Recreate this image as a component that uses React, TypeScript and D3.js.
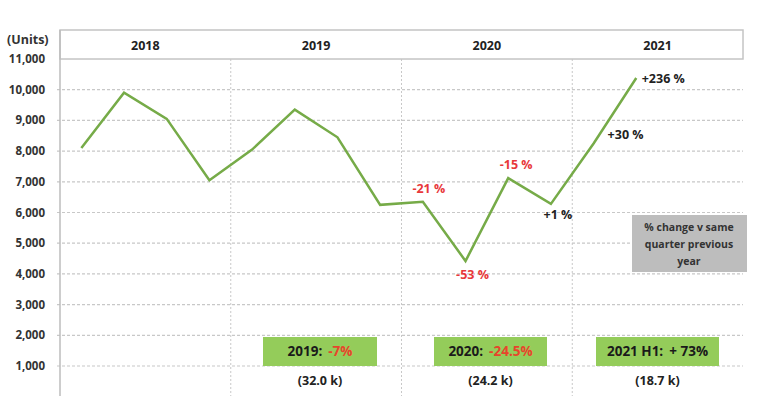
import React from "react";
import * as d3 from "d3";

const years = ["2018", "2019", "2020", "2021"];
const quartersPerYear = 4;
const values = [8100, 9900, 9050, 7050, 8050, 9350, 8450, 6250, 6350, 4420, 7120, 6280, 8250, 10380];
const yTicks = [1000, 2000, 3000, 4000, 5000, 6000, 7000, 8000, 9000, 10000, 11000];

const pctLabels = [
  { idx: 8, text: "-21 %", color: "#e8383b", dx: 6, dy: -9 },
  { idx: 9, text: "-53 %", color: "#e8383b", dx: 7, dy: 18 },
  { idx: 10, text: "-15 %", color: "#e8383b", dx: 8, dy: -9 },
  { idx: 11, text: "+1 %", color: "#222", dx: 7, dy: 15 },
  { idx: 12, text: "+30 %", color: "#222", dx: 32, dy: -4 },
  { idx: 13, text: "+236 %", color: "#222", dx: 27, dy: 5 },
];

const yearBoxes = [
  { year: 1, label: "2019:", pct: "-7%", pctColor: "#e8452b", total: "(32.0 k)", x0: 263, x1: 377 },
  { year: 2, label: "2020:", pct: "-24.5%", pctColor: "#e8452b", total: "(24.2 k)", x0: 434, x1: 547 },
  { year: 3, label: "2021 H1:", pct: "+ 73%", pctColor: "#1a1a1a", total: "(18.7 k)", x0: 596, x1: 719 },
];

const noteLines = ["% change v same", "quarter previous", "year"];

export default function App() {
  const W = 768, H = 396;
  const left = 60, right = 743, headerTop = 30;
  const x = d3.scaleLinear().domain([0, years.length * quartersPerYear]).range([left, right]);
  const y = d3.scaleLinear().domain([0, 11000]).range([396.7, 59]);
  const line = d3.line<number>().x((_, i) => x(i + 0.5)).y((d) => y(d));
  const font = "'Open Sans', 'Liberation Sans', sans-serif";

  return (
    <svg width={W} height={H} style={{ position: "absolute", left: 0, top: 0, background: "#fff" }} fontFamily={font}>
      <rect width={W} height={H} fill="#fff" />
      {yTicks.slice(0, -1).map((t) => (
        <line key={t} x1={left - 3} x2={right} y1={y(t)} y2={y(t)} stroke="#c8c8c8" strokeWidth={1.2} strokeDasharray="3,2" />
      ))}
      {years.slice(1).map((_, i) => (
        <line key={i} x1={x((i + 1) * 4)} x2={x((i + 1) * 4)} y1={y(11000)} y2={H} stroke="#c8c8c8" strokeWidth={1} strokeDasharray="2,2" />
      ))}
      <rect x={left} y={headerTop} width={right - left} height={y(11000) - headerTop} fill="#fff" stroke="#c4c4c4" strokeWidth={1.5} />
      {years.map((yr, i) => (
        <text key={yr} x={x(i * 4 + 2)} y={50} textAnchor="middle" fontSize={12.5} fontWeight={700} fill="#222">{yr}</text>
      ))}
      <line x1={left} x2={left} y1={headerTop} y2={H} stroke="#bdbdbd" strokeWidth={1.5} />
      {yTicks.map((t) => (
        <text key={t} x={45} y={y(t) + 4} textAnchor="end" fontSize={11.5} fontWeight={700} fill="#333">{d3.format(",")(t)}</text>
      ))}
      <text x={7} y={44} fontSize={12.5} fontWeight={700} fill="#333">(Units)</text>
      <path d={line(values) || ""} fill="none" stroke="#76ab48" strokeWidth={2.5} strokeLinejoin="miter" />
      {pctLabels.map((p) => (
        <text key={p.idx} x={x(p.idx + 0.5) + p.dx} y={y(values[p.idx]) + p.dy} textAnchor="middle" fontSize={12.5} fontWeight={700} fill={p.color}>{p.text}</text>
      ))}
      <rect x={632} y={215} width={115} height={57} fill="#bdbdbd" />
      {noteLines.map((l, i) => (
        <text key={i} x={689} y={231 + i * 17} textAnchor="middle" fontSize={10.5} fontWeight={700} fill="#333">{l}</text>
      ))}
      {yearBoxes.map((b) => (
        <g key={b.year}>
          <rect x={b.x0} y={337} width={b.x1 - b.x0} height={29} fill="#94cc5a" />
          <text x={(b.x0 + b.x1) / 2} y={356} textAnchor="middle" fontSize={13.5} fontWeight={700} fill="#1a1a1a">
            <tspan>{b.label}</tspan>
            <tspan dx={6} fill={b.pctColor}>{b.pct}</tspan>
          </text>
          <text x={(b.x0 + b.x1) / 2} y={385} textAnchor="middle" fontSize={12.5} fontWeight={700} fill="#222">{b.total}</text>
        </g>
      ))}
    </svg>
  );
}
